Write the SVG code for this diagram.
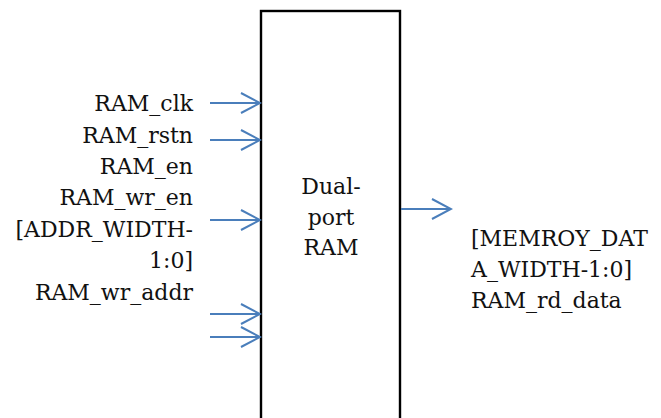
<svg xmlns="http://www.w3.org/2000/svg" width="661" height="418" viewBox="0 0 661 418">
  <style>
    .lbl { font-family: "DejaVu Serif", "Liberation Serif", serif; font-size: 22px; fill: #111; }
    .r { text-anchor: end; }
    .c { text-anchor: middle; }
    .wire { stroke: #4a7ebb; stroke-width: 2; fill: none; stroke-linecap: butt; }
    .box { stroke: #000; stroke-width: 2.4; fill: #fff; }
  </style>
  <defs>
    <marker id="open" viewBox="0 0 22 24" markerWidth="22" markerHeight="24" refX="20" refY="12" orient="auto" markerUnits="userSpaceOnUse">
      <path d="M1,2 L20,12 L1,22" stroke="#4a7ebb" stroke-width="2" fill="none"/>
    </marker>
  </defs>

  <rect width="661" height="418" fill="#fff"/>

  <!-- memory block -->
  <g id="ram">
    <rect class="box" x="261" y="11" width="139" height="420"/>
    <text class="lbl c" x="331" y="194">Dual-</text>
    <text class="lbl c" x="331" y="225">port</text>
    <text class="lbl c" x="331" y="255">RAM</text>
  </g>

  <!-- input port labels -->
  <g id="inputs">
    <text class="lbl r" x="193" y="111">RAM_clk</text>
    <text class="lbl r" x="193" y="143">RAM_rstn</text>
    <text class="lbl r" x="193" y="174">RAM_en</text>
    <text class="lbl r" x="193" y="205">RAM_wr_en</text>
    <text class="lbl r" x="193" y="237">[ADDR_WIDTH-</text>
    <text class="lbl r" x="193" y="268">1:0]</text>
    <text class="lbl r" x="193" y="300">RAM_wr_addr</text>
  </g>

  <!-- output port label -->
  <g id="output">
    <text class="lbl" x="471" y="246">[MEMROY_DAT</text>
    <text class="lbl" x="471" y="277">A_WIDTH-1:0]</text>
    <text class="lbl" x="471" y="308">RAM_rd_data</text>
  </g>

  <!-- port arrows -->
  <g id="connectors">
    <line class="wire" x1="210" y1="103" x2="260" y2="103" marker-end="url(#open)"/>
    <line class="wire" x1="210" y1="140" x2="260" y2="140" marker-end="url(#open)"/>
    <line class="wire" x1="210" y1="220" x2="260" y2="220" marker-end="url(#open)"/>
    <line class="wire" x1="210" y1="314" x2="260" y2="314" marker-end="url(#open)"/>
    <line class="wire" x1="210" y1="337" x2="260" y2="337" marker-end="url(#open)"/>
    <line class="wire" x1="401" y1="209" x2="451" y2="209" marker-end="url(#open)"/>
  </g>
</svg>
